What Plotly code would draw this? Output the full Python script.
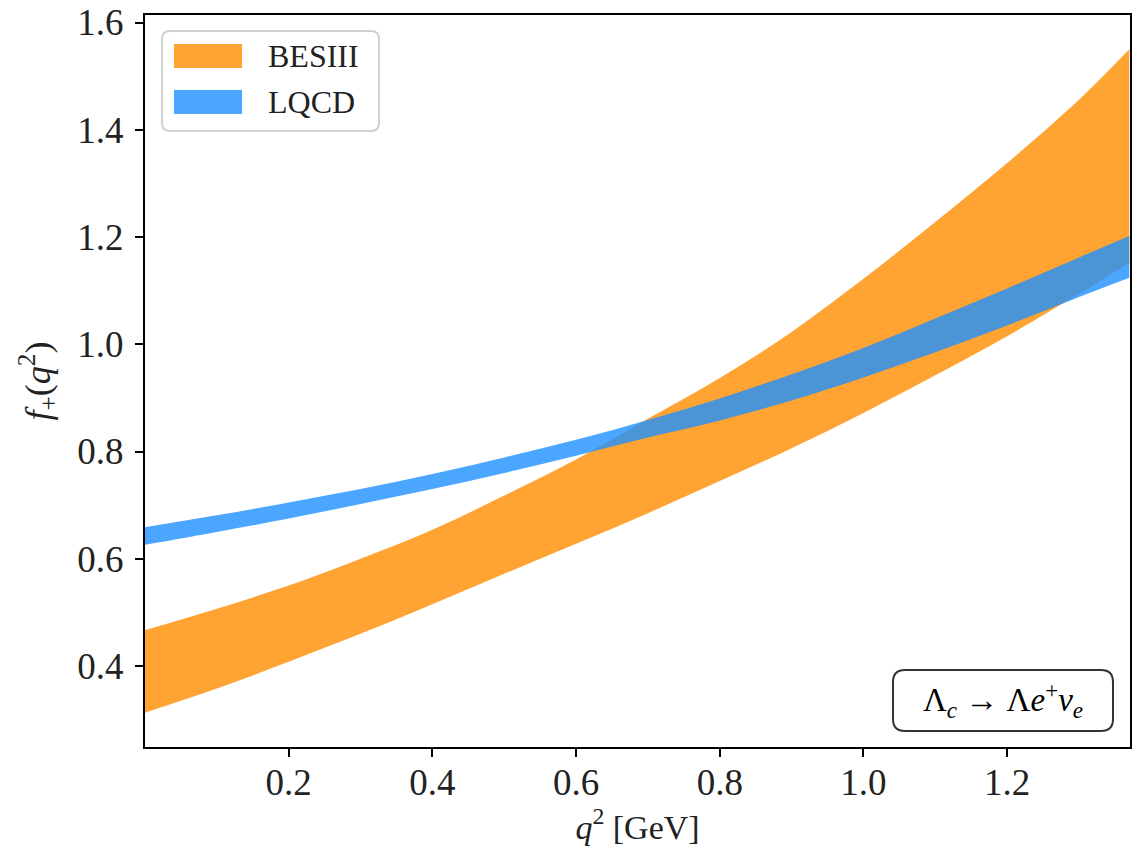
import plotly.graph_objects as go

# q^2 grid (GeV)
q2 = [0.0, 0.1, 0.2, 0.3, 0.4, 0.5, 0.6, 0.7, 0.8, 0.9, 1.0, 1.1, 1.2, 1.3, 1.37]

# BESIII band
besiii_upper = [0.467, 0.507, 0.550, 0.600, 0.654, 0.718, 0.785, 0.861, 0.937, 1.023, 1.122, 1.228, 1.338, 1.456, 1.550]
besiii_lower = [0.313, 0.358, 0.408, 0.460, 0.515, 0.572, 0.628, 0.685, 0.745, 0.806, 0.872, 0.942, 1.015, 1.094, 1.152]

# LQCD band
lqcd_upper = [0.659, 0.681, 0.705, 0.730, 0.758, 0.789, 0.822, 0.859, 0.899, 0.944, 0.993, 1.048, 1.104, 1.162, 1.202]
lqcd_lower = [0.626, 0.650, 0.675, 0.702, 0.730, 0.760, 0.792, 0.826, 0.858, 0.895, 0.938, 0.985, 1.035, 1.088, 1.124]

series_names = ["BESIII", "LQCD"]
x_ticks = [0.2, 0.4, 0.6, 0.8, 1.0, 1.2]
y_ticks = [0.4, 0.6, 0.8, 1.0, 1.2, 1.4, 1.6]

ORANGE = "rgba(255,140,0,0.8)"
BLUE = "rgba(30,144,255,0.8)"
FONT = "Liberation Serif"
TXT = "#222222"

OFF = 8  # page body margin offset of the figure
W, H = 1143, 856
ML, MR, MT, MB = 137, 21, 7, 117
PW, PH = W - ML - MR, H - MT - MB


def px(xp):
    return (xp - OFF - ML) / PW


def py(yp):
    return 1 - (yp - OFF - MT) / PH


def rounded(x0p, y0p, x1p, y1p, r):
    x0, x1 = px(x0p), px(x1p)
    yb, yt = py(y1p), py(y0p)
    rx, ry = r / PW, r / PH
    return (f"M {x0+rx},{yb} L {x1-rx},{yb} Q {x1},{yb} {x1},{yb+ry} "
            f"L {x1},{yt-ry} Q {x1},{yt} {x1-rx},{yt} L {x0+rx},{yt} "
            f"Q {x0},{yt} {x0},{yt-ry} L {x0},{yb+ry} Q {x0},{yb} {x0+rx},{yb} Z")


fig = go.Figure()


def band(lower, upper, color, name):
    fig.add_trace(go.Scatter(x=q2, y=lower, mode="lines", line=dict(width=0, shape="spline"),
                             showlegend=False, hoverinfo="skip"))
    fig.add_trace(go.Scatter(x=q2, y=upper, mode="lines", line=dict(width=0, shape="spline"),
                             fill="tonexty", fillcolor=color, name=name, showlegend=False))


band(besiii_lower, besiii_upper, ORANGE, series_names[0])
band(lqcd_lower, lqcd_upper, BLUE, series_names[1])

# custom legend (matplotlib-like)
fig.add_shape(type="path", path=rounded(162, 31, 379, 131, 8), xref="paper", yref="paper",
              line=dict(color="#d0d0d0", width=2), fillcolor="rgba(255,255,255,0.8)", layer="above")
for i, (name, col) in enumerate(zip(series_names, [ORANGE, BLUE])):
    yc = 56 + i * 46
    fig.add_shape(type="rect", xref="paper", yref="paper",
                  x0=px(174), x1=px(242), y0=py(yc + 12), y1=py(yc - 12),
                  line=dict(width=0), fillcolor=col, layer="above")
    fig.add_annotation(x=px(266), y=py(yc), xref="paper", yref="paper", xanchor="left", yanchor="middle",
                       text=name, showarrow=False, font=dict(family=FONT, size=32, color=TXT))

# rounded box for the process label
fig.add_shape(type="path", path=rounded(893, 670, 1113, 731, 12), xref="paper", yref="paper",
              line=dict(color="#333333", width=2), fillcolor="white", layer="above")
fig.add_annotation(x=px(1003), y=py(700), xref="paper", yref="paper",
                   xanchor="center", yanchor="middle", width=210, height=50, align="center",
                   text="Λ<sub><i>c</i></sub> → Λ<i>e</i><sup>+</sup><i>ν</i><sub><i>e</i></sub>",
                   showarrow=False, font=dict(family=FONT, size=33, color="black"))

axis_common = dict(showline=True, linecolor="black", linewidth=2, mirror=True,
                   ticks="outside", ticklen=8, tickwidth=2, tickcolor="black",
                   showgrid=False, zeroline=False, automargin=False,
                   ticklabeloverflow="allow",
                   tickfont=dict(family=FONT, size=37, color=TXT))

fig.update_layout(
    width=W, height=H,
    margin=dict(l=ML, r=MR, t=MT, b=MB),
    paper_bgcolor="white", plot_bgcolor="white",
    showlegend=False,
    xaxis=dict(range=[0, 1.371], tickvals=x_ticks, ticktext=[f"{v:.1f}" for v in x_ticks],
               ticklabelstandoff=-6,
               title=dict(text="<i>q</i><sup>2</sup> [GeV]", font=dict(family=FONT, size=34, color=TXT),
                          standoff=6),
               **axis_common),
    yaxis=dict(range=[0.249, 1.614], tickvals=y_ticks, ticktext=[f"{v:.1f}" for v in y_ticks],
               ticklabelstandoff=4,
               title=dict(text="<i>f</i><sub>+</sub>(<i>q</i><sup>2</sup>)", font=dict(family=FONT, size=36, color=TXT),
                          standoff=16),
               **axis_common),
)

fig.write_html("out.html")
